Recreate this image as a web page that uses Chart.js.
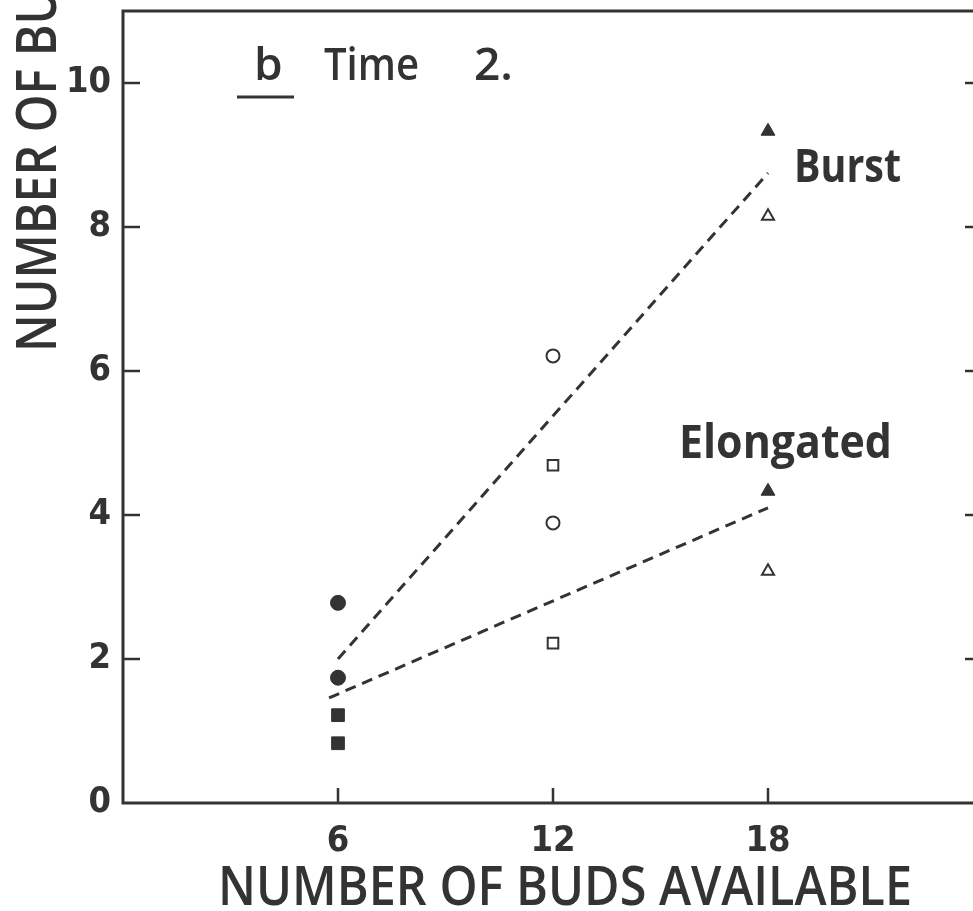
<!DOCTYPE html>
<html>
<head>
<meta charset="utf-8">
<title>Time 2 - number of buds</title>
<script src="https://cdn.jsdelivr.net/npm/chart.js@4.4.1/dist/chart.umd.min.js"></script>
<style>
  html, body { margin: 0; padding: 0; background: #fff; overflow: hidden; }
  #wrap { width: 1000px; height: 911px; }
</style>
</head>
<body>
<div id="wrap"><canvas id="chart" width="1000" height="911"></canvas></div>
<script>
// values
const xTickValues = [6, 12, 18];
const yTickValues = [0, 2, 4, 6, 8, 10];

// 6 buds available (solid circles / squares)
const solidCircleX = [6, 6];
const solidCircleY = [2.78, 1.74];
const solidSquareX = [6, 6];
const solidSquareY = [1.22, 0.83];

// 12 buds available (open circles / squares)
const openCircleX = [12, 12];
const openCircleY = [6.21, 3.89];
const openSquareX = [12, 12];
const openSquareY = [4.69, 2.22];

// 18 buds available (triangles)
const solidTriangleX = [18, 18];
const solidTriangleY = [9.33, 4.33];
const openTriangleX = [18, 18];
const openTriangleY = [8.15, 3.22];

// fitted dashed lines
const burstLineX = [6, 18];
const burstLineY = [2.0, 8.75];
const elongLineX = [5.75, 18];
const elongLineY = [1.46, 4.1];

const INK = '#333333';
const tickFont = "'Liberation Sans Narrow', 'DejaVu Sans Condensed', sans-serif";
const labelFont = "'Open Sans', 'DejaVu Sans', sans-serif";

function pts(xs, ys) {
    return xs.map((x, i) => ({ x: x, y: ys[i] }));
}

function markers(label, xs, ys, style, filled, radius) {
    return {
        label: label,
        data: pts(xs, ys),
        pointStyle: style,
        pointRadius: radius,
        pointHoverRadius: radius,
        pointBackgroundColor: filled ? INK : '#ffffff',
        pointBorderColor: INK,
        pointBorderWidth: filled ? 1 : 2,
        showLine: false
    };
}

function dashed(label, xs, ys) {
    return {
        label: label,
        data: pts(xs, ys),
        showLine: true,
        borderColor: INK,
        borderWidth: 3,
        borderDash: [11, 7],
        pointRadius: 0,
        fill: false
    };
}

// frame, inward ticks and the hand-placed labels
const decorations = {
    id: 'decorations',
    afterDraw(chart) {
        const { ctx, chartArea: a, scales } = chart;
        ctx.save();
        ctx.strokeStyle = INK;
        ctx.fillStyle = INK;

        // frame
        ctx.lineWidth = 3;
        ctx.strokeRect(a.left, a.top, a.right - a.left, a.bottom - a.top);

        // inward ticks
        ctx.lineWidth = 2.5;
        ctx.beginPath();
        yTickValues.forEach(v => {
            if (v === 0) return;
            const y = scales.y.getPixelForValue(v);
            ctx.moveTo(a.left, y); ctx.lineTo(a.left + 17, y);
            ctx.moveTo(a.right, y); ctx.lineTo(a.right - 18, y);
        });
        xTickValues.forEach(v => {
            const x = scales.x.getPixelForValue(v);
            ctx.moveTo(x, a.bottom); ctx.lineTo(x, a.bottom - 15);
        });
        ctx.stroke();

        // axis titles
        ctx.textAlign = 'center';
        ctx.textBaseline = 'alphabetic';
        ctx.font = '600 54px ' + labelFont;
        ctx.fillText('NUMBER OF BUDS AVAILABLE', 565, 905, 694);

        ctx.save();
        ctx.translate(56, 352);
        ctx.rotate(-Math.PI / 2);
        ctx.textAlign = 'left';
        ctx.font = '600 56px ' + labelFont;
        ctx.fillText('NUMBER OF BUDS', 0, 0, 425);
        ctx.restore();

        // panel label
        ctx.textAlign = 'left';
        ctx.font = '600 46px ' + labelFont;
        ctx.fillText('b', 254, 80, 30);
        ctx.fillText('Time', 324, 80, 95);
        ctx.fillText('2.', 474, 80, 42);
        ctx.lineWidth = 3;
        ctx.beginPath();
        ctx.moveTo(237, 97); ctx.lineTo(294, 97);
        ctx.stroke();

        // line labels
        ctx.font = 'bold 46px ' + labelFont;
        ctx.fillText('Burst', 794, 182, 107);
        ctx.fillText('Elongated', 679, 458, 213);

        ctx.restore();
    }
};

new Chart(document.getElementById('chart'), {
    type: 'scatter',
    data: {
        datasets: [
            dashed('Burst', burstLineX, burstLineY),
            dashed('Elongated', elongLineX, elongLineY),
            markers('6 buds (circle)', solidCircleX, solidCircleY, 'circle', true, 7.5),
            markers('6 buds (square)', solidSquareX, solidSquareY, 'rect', true, 9),
            markers('12 buds (circle)', openCircleX, openCircleY, 'circle', false, 6.5),
            markers('12 buds (square)', openSquareX, openSquareY, 'rect', false, 7.5),
            markers('18 buds (solid)', solidTriangleX, solidTriangleY, 'triangle', true, 8),
            markers('18 buds (open)', openTriangleX, openTriangleY, 'triangle', false, 7)
        ]
    },
    options: {
        responsive: false,
        animation: false,
        layout: { padding: { top: 11, right: 17, left: 0, bottom: 0 } },
        plugins: {
            legend: { display: false },
            tooltip: { enabled: false },
            title: { display: false }
        },
        scales: {
            x: {
                type: 'linear',
                min: 0,
                max: 24,
                afterBuildTicks: s => { s.ticks = xTickValues.map(v => ({ value: v })); },
                afterFit: s => { s.height = 108; s.paddingLeft = 0; s.paddingRight = 0; },
                grid: { display: false, drawTicks: false },
                border: { display: false },
                ticks: {
                    padding: 17,
                    color: INK,
                    font: { family: tickFont, weight: 'bold', size: 36 }
                }
            },
            y: {
                type: 'linear',
                min: 0,
                max: 11,
                afterBuildTicks: s => { s.ticks = yTickValues.map(v => ({ value: v })); },
                afterFit: s => { s.width = 123; s.paddingTop = 0; s.paddingBottom = 0; },
                grid: { display: false, drawTicks: false },
                border: { display: false },
                ticks: {
                    padding: 12,
                    color: INK,
                    font: { family: tickFont, weight: 'bold', size: 36 }
                }
            }
        }
    },
    plugins: [decorations]
});
</script>
</body>
</html>
